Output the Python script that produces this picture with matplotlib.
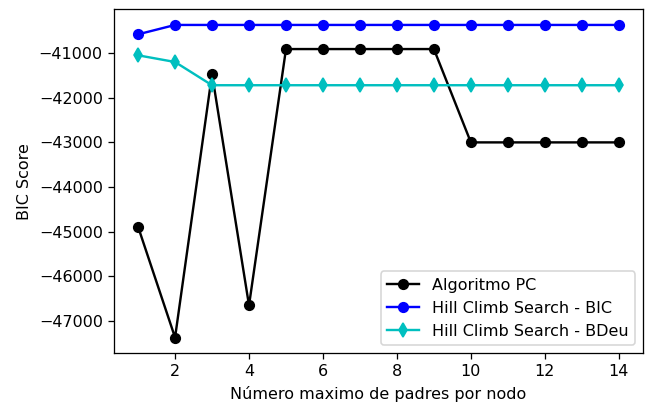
import matplotlib
matplotlib.use("Agg")
import matplotlib.pyplot as plt

# Max number of parents per node
max_padres = list(range(1, 15))

# BIC scores per method
pc_scores = [-44890, -47370, -41470, -46650, -40910, -40910, -40910, -40910, -40910,
             -43000, -43000, -43000, -43000, -43000]
hc_bic_scores = [-40580, -40370, -40370, -40370, -40370, -40370, -40370, -40370, -40370,
                 -40370, -40370, -40370, -40370, -40370]
hc_bdeu_scores = [-41050, -41200, -41720, -41720, -41720, -41720, -41720, -41720, -41720,
                  -41720, -41720, -41720, -41720, -41720]

fig, ax = plt.subplots(figsize=(648 / 115, 405 / 115), dpi=115)

ax.plot(max_padres, pc_scores, 'ko-', label='Algoritmo PC')
ax.plot(max_padres, hc_bic_scores, 'bo-', label='Hill Climb Search - BIC')
ax.plot(max_padres, hc_bdeu_scores, 'cd-', label='Hill Climb Search - BDeu')

ax.set_xlabel('Número maximo de padres por nodo')
ax.set_ylabel('BIC Score')
ax.legend(loc='lower right')

plt.subplots_adjust(left=0.176, right=0.992, top=0.977, bottom=0.128)
plt.savefig('out.png')
